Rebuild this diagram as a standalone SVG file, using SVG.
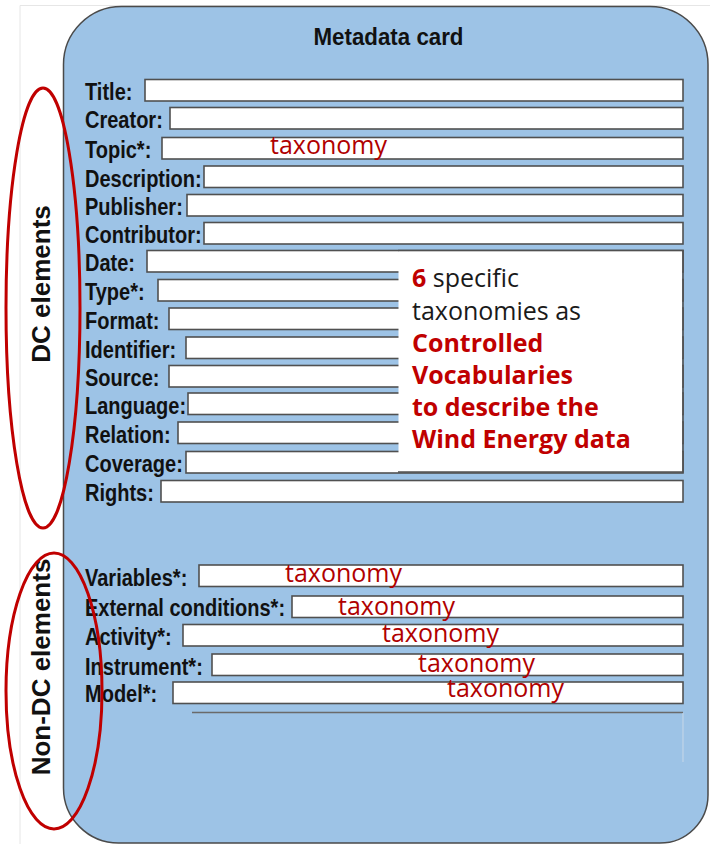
<svg xmlns="http://www.w3.org/2000/svg" width="710" height="844" viewBox="0 0 710 844">
<style>
.frame{fill:none;stroke:#e6e6e6;stroke-width:1}
.card{fill:#9DC3E6;stroke:#4a4a4a;stroke-width:1.5}
.box{fill:#fff;stroke:#505050;stroke-width:1.6}
.lbl{font-family:"Liberation Sans",Arial,sans-serif;font-weight:bold;font-size:23px;fill:#111}
.ttl{font-family:"Liberation Sans",Arial,sans-serif;font-weight:bold;font-size:24px;fill:#111}
.tax{font-family:"Open Sans","Noto Sans",sans-serif;font-size:25px;fill:#B00000}
.note{font-family:"Open Sans","Noto Sans",sans-serif;font-size:25px;fill:#1a1a1a}
.red{fill:#C00000;font-weight:bold}
.ell{fill:none;stroke:#C00000;stroke-width:3}
.side{font-family:"Liberation Sans",Arial,sans-serif;font-weight:bold;font-size:26px;fill:#111}
</style>
<rect width="710" height="844" fill="#fff"/>
<path class="frame" d="M20 844 V5.5 H710"/>
<g id="card">
<path class="card" d="M121.5 6.5 H650 A58 58 0 0 1 708 64.5 V795 A48 48 0 0 1 660 843 H118.5 A55 55 0 0 1 63.5 788 V64.5 A58 58 0 0 1 121.5 6.5 Z"/>
<text class="ttl" transform="translate(388.5 45) scale(0.93 1)" text-anchor="middle">Metadata card</text>
</g>
<g id="dc-fields">
<g id="f-title"><rect class="box" x="145" y="79.5" width="538" height="21.5"/><text class="lbl" transform="translate(85 100) scale(0.87 1)">Title:</text></g>
<g id="f-creator"><rect class="box" x="170" y="107.5" width="513" height="21.5"/><text class="lbl" transform="translate(85 128) scale(0.87 1)">Creator:</text></g>
<g id="f-topic"><rect class="box" x="162" y="137.5" width="521" height="21.5"/><text class="lbl" transform="translate(85 158) scale(0.87 1)">Topic*:</text><text class="tax" x="270" y="154">taxonomy</text></g>
<g id="f-description"><rect class="box" x="204" y="166" width="479" height="21.5"/><text class="lbl" transform="translate(85 187) scale(0.87 1)">Description:</text></g>
<g id="f-publisher"><rect class="box" x="187" y="194.5" width="496" height="21.5"/><text class="lbl" transform="translate(85 215) scale(0.87 1)">Publisher:</text></g>
<g id="f-contributor"><rect class="box" x="204" y="222.5" width="479" height="21.5"/><text class="lbl" transform="translate(85 243) scale(0.87 1)">Contributor:</text></g>
<g id="f-date"><rect class="box" x="147" y="250.5" width="536" height="21.5"/><text class="lbl" transform="translate(85 271) scale(0.87 1)">Date:</text></g>
<g id="f-type"><rect class="box" x="158" y="279.5" width="525" height="21.5"/><text class="lbl" transform="translate(85 300) scale(0.87 1)">Type*:</text></g>
<g id="f-format"><rect class="box" x="169" y="308" width="514" height="21.5"/><text class="lbl" transform="translate(85 329) scale(0.87 1)">Format:</text></g>
<g id="f-identifier"><rect class="box" x="186" y="337" width="497" height="21.5"/><text class="lbl" transform="translate(85 358) scale(0.87 1)">Identifier:</text></g>
<g id="f-source"><rect class="box" x="169" y="365.5" width="514" height="21.5"/><text class="lbl" transform="translate(85 386) scale(0.87 1)">Source:</text></g>
<g id="f-language"><rect class="box" x="188" y="393" width="495" height="21.5"/><text class="lbl" transform="translate(85 414) scale(0.87 1)">Language:</text></g>
<g id="f-relation"><rect class="box" x="178" y="422" width="505" height="21.5"/><text class="lbl" transform="translate(85 443) scale(0.87 1)">Relation:</text></g>
<g id="f-coverage"><rect class="box" x="186" y="451.5" width="497" height="21.5"/><text class="lbl" transform="translate(85 472) scale(0.87 1)">Coverage:</text></g>
<g id="f-rights"><rect class="box" x="161" y="480.5" width="522" height="21.5"/><text class="lbl" transform="translate(85 501) scale(0.87 1)">Rights:</text></g>
</g>
<g id="note">
<rect x="398.5" y="251.3" width="283.7" height="220.2" fill="#fff"/>
<path d="M398 250.5 H683 V472 H398" fill="none" stroke="#505050" stroke-width="1.6"/>
<text class="note" x="412" y="287"><tspan class="red">6</tspan> specific</text>
<text class="note" x="412" y="320">taxonomies as</text>
<text class="note red" x="412" y="352">Controlled</text>
<text class="note red" x="412" y="384">Vocabularies</text>
<text class="note red" x="412" y="416">to describe the</text>
<text class="note red" x="412" y="448">Wind Energy data</text>
</g>
<g id="nondc-fields">
<g id="f-variables"><rect class="box" x="199" y="565" width="484" height="21.5"/><text class="lbl" transform="translate(85 586) scale(0.87 1)">Variables*:</text><text class="tax" x="285" y="582">taxonomy</text></g>
<g id="f-external"><rect class="box" x="292" y="596" width="391" height="21.5"/><text class="lbl" transform="translate(85 616) scale(0.87 1)">External conditions*:</text><text class="tax" x="338" y="615">taxonomy</text></g>
<g id="f-activity"><rect class="box" x="183" y="624.5" width="500" height="21.5"/><text class="lbl" transform="translate(85 645) scale(0.87 1)">Activity*:</text><text class="tax" x="382" y="642">taxonomy</text></g>
<g id="f-instrument"><rect class="box" x="212" y="654" width="471" height="21.5"/><text class="lbl" transform="translate(85 675) scale(0.87 1)">Instrument*:</text><text class="tax" x="418" y="672">taxonomy</text></g>
<g id="f-model"><rect class="box" x="173" y="682" width="510" height="21.5"/><text class="lbl" transform="translate(85 702) scale(0.87 1)">Model*:</text><text class="tax" x="447" y="697">taxonomy</text></g>
<path d="M192 712.5 H683" fill="none" stroke="#6a6a6a" stroke-width="1.3"/>
<path d="M683 713 V762" fill="none" stroke="#c8d8e8" stroke-width="1"/>
</g>
<g id="dc-group">
<text class="side" transform="translate(50 284) rotate(-90)" text-anchor="middle">DC elements</text>
<ellipse class="ell" cx="43" cy="308" rx="37" ry="220"/>
</g>
<g id="nondc-group">
<text class="side" transform="translate(50 667) rotate(-90)" text-anchor="middle">Non-DC elements</text>
<ellipse class="ell" cx="54" cy="691" rx="48" ry="138"/>
</g>
<g id="connectors"/>
</svg>
